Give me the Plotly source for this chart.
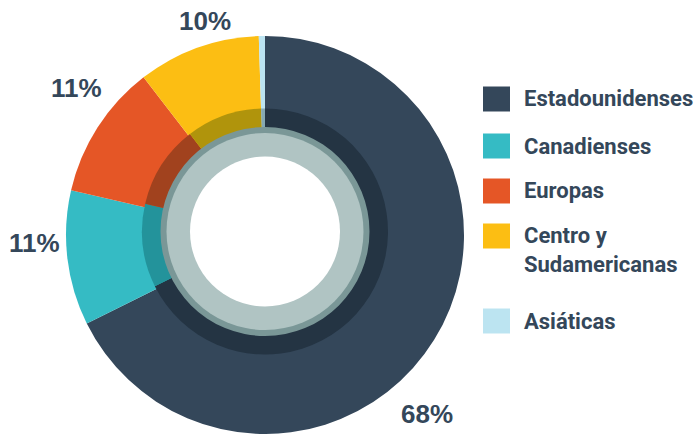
import plotly.graph_objects as go

# Share of visitors by origin (%)
categories = ["Estadounidenses", "Canadienses", "Europas", "Centro y Sudamericanas", "Asiáticas"]
legend_labels = ["Estadounidenses", "Canadienses", "Europas", "Centro y<br>Sudamericanas", "Asiáticas"]
shares = [68, 11, 11, 10, 0.5]
shown_labels = [True, True, True, True, False]

colors = ["#34475a", "#35bbc4", "#e55626", "#fcbe13", "#bce4f1"]
shade_colors = ["#243443", "#23939b", "#a1421e", "#b0940c", "#86a9b3"]
text_color = "#34475a"

W, H = 697, 434


def px_x(x):
    return x / W


def px_y(y):
    return 1 - y / H


def circle(cx, cy, r, fill):
    return dict(type="circle", xref="paper", yref="paper",
                x0=px_x(cx - r), x1=px_x(cx + r),
                y0=px_y(cy + r), y1=px_y(cy - r),
                fillcolor=fill, line=dict(width=0), layer="above")


fig = go.Figure()

# outer ring
R_OUT, CX, CY_OUT = 199, 265, 235
fig.add_trace(go.Pie(
    labels=categories, values=shares, sort=False, direction="clockwise", rotation=0,
    marker=dict(colors=colors, line=dict(width=0)), textinfo="none",
    hoverinfo="label+percent", showlegend=False,
    domain=dict(x=[px_x(CX - R_OUT), px_x(CX + R_OUT)], y=[0, px_y(CY_OUT - R_OUT)]),
))

# shaded inner band
R_IN, CY_IN = 123, 231.5
fig.add_trace(go.Pie(
    labels=categories, values=shares, sort=False, direction="clockwise", rotation=0,
    marker=dict(colors=shade_colors, line=dict(width=0)), textinfo="none",
    hoverinfo="skip", showlegend=False,
    domain=dict(x=[px_x(CX - R_IN), px_x(CX + R_IN)],
                y=[px_y(CY_IN + R_IN), px_y(CY_IN - R_IN)]),
))

shapes = [
    circle(CX, CY_IN, 104.5, "#7a9797"),
    circle(CX, CY_IN, 98.5, "#b0c4c3"),
    circle(CX, CY_IN, 75, "#ffffff"),
]

annotations = []

# percentage labels around the ring
label_pos = [(427, 414), (34, 243), (76, 88), (205, 21), None]
for val, show, pos in zip(shares, shown_labels, label_pos):
    if not show:
        continue
    annotations.append(dict(
        text=f"<b>{val:g}%</b>", x=px_x(pos[0]), y=px_y(pos[1]),
        xref="paper", yref="paper", xanchor="center", yanchor="middle",
        showarrow=False,
        font=dict(family="Liberation Sans, Arial, sans-serif", size=26, color=text_color),
    ))

# legend
legend_rows = [99, 146, 191, 236, 321]
for lab, col, yc in zip(legend_labels, colors, legend_rows):
    shapes.append(dict(type="rect", xref="paper", yref="paper",
                       x0=px_x(483), x1=px_x(510), y0=px_y(yc + 12.5), y1=px_y(yc - 12.5),
                       fillcolor=col, line=dict(width=0), layer="above"))
    multi = "<br>" in lab
    annotations.append(dict(
        text=f"<b>{lab}</b>", x=px_x(522),
        y=px_y(yc - 15) if multi else px_y(yc),
        xref="paper", yref="paper", xanchor="left",
        yanchor="top" if multi else "middle", align="left",
        showarrow=False,
        font=dict(family="Roboto, Liberation Sans, sans-serif", size=22, color=text_color),
    ))

fig.update_layout(
    width=W, height=H, margin=dict(l=0, r=0, t=0, b=0),
    paper_bgcolor="white", plot_bgcolor="white",
    shapes=shapes, annotations=annotations,
)

fig.write_html("out.html")
